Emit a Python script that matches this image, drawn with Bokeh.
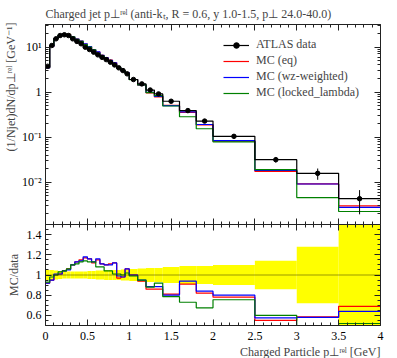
from bokeh.plotting import figure
from bokeh.layouts import column
from bokeh.models import (Range1d, LinearAxis, LogAxis, FixedTicker, Title,
                          Legend, LegendItem, Span)
from bokeh.embed import file_html
from bokeh.resources import INLINE

# ---------------- data ----------------
edges = [0.0, 0.05, 0.1, 0.15, 0.2, 0.25, 0.3, 0.35, 0.4, 0.45, 0.5,
         0.55, 0.6, 0.65, 0.7, 0.75, 0.8, 0.85, 0.9, 0.95, 1.0,
         1.1, 1.2, 1.3, 1.4, 1.6, 1.8, 2.0, 2.5, 3.0, 3.5, 4.0]

data = [3.74, 10.8, 15.2, 18.0, 18.7, 18.0, 15.2, 13.3, 11.8, 9.9,
        8.8, 7.7, 6.7, 5.9, 5.25, 4.6, 4.0, 3.45, 3.0, 2.54,
        1.90, 1.52, 1.11, 0.91, 0.625, 0.388, 0.227, 0.104, 0.0316,
        0.0157, 0.0043]

err = [0.05, 0.05, 0.045, 0.04, 0.035, 0.035, 0.035, 0.035, 0.035, 0.035,
       0.04, 0.04, 0.045, 0.045, 0.05, 0.05, 0.05, 0.05, 0.055, 0.055,
       0.06, 0.065, 0.07, 0.07, 0.08, 0.09, 0.09, 0.10, 0.14, 0.28, 0.55]

ratio_eq = [0.92, 0.95, 1.00, 1.01, 1.04, 1.06, 1.10, 1.13, 1.15, 1.17,
            1.16, 1.12, 1.15, 1.11, 1.10, 1.11, 1.12, 0.97, 0.98, 1.06,
            1.00, 0.94, 0.86, 0.86, 0.81, 0.91, 0.82, 0.78, 0.55, 0.585, 0.69]

ratio_wz = [0.92, 0.95, 1.01, 1.01, 1.04, 1.05, 1.10, 1.13, 1.14, 1.18,
            1.16, 1.13, 1.16, 1.11, 1.10, 1.10, 1.12, 0.99, 0.98, 1.06,
            1.00, 0.95, 0.885, 0.885, 0.80, 0.94, 0.84, 0.80, 0.575, 0.58, 0.64]

ratio_ll = [0.93, 0.98, 1.00, 1.03, 1.04, 1.06, 1.10, 1.11, 1.13, 1.14,
            1.13, 1.13, 1.08, 1.08, 1.04, 1.04, 1.01, 1.01, 1.00, 1.02,
            0.99, 0.95, 0.88, 0.92, 0.785, 0.73, 0.675, 0.755, 0.60, 0.29, 0.52]

x_major = [0, 0.5, 1, 1.5, 2, 2.5, 3, 3.5, 4]
x_minor = [i / 10 for i in range(41)]
y_major = [0.01, 0.1, 1, 10]
y_labels = {10: "10¹", 1: "1", 0.1: "10⁻¹", 0.01: "10⁻²"}
r_major = [0.6, 0.8, 1.0, 1.2, 1.4]
r_minor = [round(0.5 + 0.05 * i, 2) for i in range(21)]

labels = ["ATLAS data", "MC (eq)", "MC (wz-weighted)", "MC (locked_lambda)"]
colors = ["black", "#ff0000", "#0000ff", "#008000"]

FONT = "Liberation Serif"

centers = [(edges[i] + edges[i + 1]) / 2 for i in range(len(data))]
mcs = [[d * r for d, r in zip(data, rr)] for rr in (ratio_eq, ratio_wz, ratio_ll)]
ratios = [ratio_eq, ratio_wz, ratio_ll]


def st(v):
    return list(v) + [v[-1]]


def style(ax, show=True, standoff=4):
    ax.major_tick_in = 6
    ax.major_tick_out = 0
    ax.minor_tick_in = 3
    ax.minor_tick_out = 0
    ax.axis_line_color = "#222222"
    ax.major_tick_line_color = "#222222"
    ax.minor_tick_line_color = "#222222"
    ax.major_label_text_font = FONT
    ax.major_label_text_font_size = "12px"
    ax.major_label_text_color = "black"
    if not show:
        ax.major_label_text_font_size = "2px"
        ax.major_label_text_alpha = 0
        ax.major_label_text_color = None
        ax.major_label_standoff = 0
    else:
        ax.major_label_standoff = standoff


# ---------------- main panel ----------------
main = figure(frame_width=335, frame_height=200, x_range=Range1d(0, 4),
              y_range=Range1d(0.00115, 31.6), y_axis_type="log",
              output_backend="svg", toolbar_location=None,
              min_border_left=45, min_border_right=4, min_border_top=0,
              min_border_bottom=0,
              title="Charged jet p⊥ʳᵉˡ (anti-kₜ, R = 0.6, y 1.0-1.5, p⊥ 24.0-40.0)")
main.title.text_font = FONT
main.title.text_font_size = "12px"
main.title.text_font_style = "normal"
main.title.align = "left"
main.title.standoff = 8
main.grid.visible = False
main.outline_line_color = None

xt = FixedTicker(ticks=x_major, minor_ticks=x_minor)
yt = FixedTicker(ticks=y_major,
                 minor_ticks=[m * 10 ** e for e in range(-3, 2) for m in range(2, 10)])
main.xaxis[0].ticker = xt
style(main.xaxis[0], False)
main.yaxis[0].ticker = yt
main.yaxis[0].major_label_overrides = y_labels
style(main.yaxis[0], True)
ax_top = LinearAxis(ticker=xt)
style(ax_top, False)
main.add_layout(ax_top, "above")
ax_right = LogAxis(ticker=yt)
style(ax_right, False)
main.add_layout(ax_right, "right")
ylab = Title(text="(1/Njet)dN/dp⊥ʳᵉˡ [GeV⁻¹]", align="right", text_font=FONT,
             text_font_size="12px", text_font_style="normal", standoff=2)
main.add_layout(ylab, "left")

mc_r = []
for vals, c in zip(mcs, colors[1:]):
    mc_r.append(main.step(x=edges, y=st(vals), mode="after", line_color=c, line_width=1.2))
d_line = main.step(x=edges, y=st(data), mode="after", line_color="black", line_width=1.2)
main.segment(x0=centers, x1=centers, y0=[d * (1 - e) for d, e in zip(data, err)],
             y1=[d * (1 + e) for d, e in zip(data, err)], line_color="black", line_width=1)
d_pts = main.scatter(x=centers, y=data, size=4.5, color="black")

legend = Legend(items=[LegendItem(label=labels[0], renderers=[d_line, d_pts])] +
                [LegendItem(label=l, renderers=[r]) for l, r in zip(labels[1:], mc_r)],
                location=(178, 124), glyph_width=26, glyph_height=14, label_height=14,
                label_standoff=7, spacing=1, padding=0, margin=0,
                border_line_color=None, background_fill_alpha=0,
                label_text_font=FONT, label_text_font_size="12px")
main.add_layout(legend)

# ---------------- ratio panel ----------------
rat = figure(frame_width=335, frame_height=101, x_range=main.x_range,
             y_range=Range1d(0.5, 1.5), output_backend="svg", toolbar_location=None,
             min_border_left=45, min_border_right=4, min_border_top=0,
             min_border_bottom=0)
rat.grid.visible = False
rat.outline_line_color = None
rt = FixedTicker(ticks=r_major, minor_ticks=r_minor)
rat.xaxis[0].ticker = xt
rat.xaxis[0].major_label_overrides = {0: "0", 1: "1", 2: "2", 3: "3", 4: "4"}
style(rat.xaxis[0], True, standoff=6)
rat.yaxis[0].ticker = rt
rat.yaxis[0].major_label_overrides = {1.0: "1"}
style(rat.yaxis[0], True)
rtop = LinearAxis(ticker=xt)
style(rtop, False)
rat.add_layout(rtop, "above")
rright = LinearAxis(ticker=rt)
style(rright, False)
rat.add_layout(rright, "right")
rylab = Title(text="MC/data", align="center", text_font=FONT, text_font_size="12px",
              text_font_style="normal", standoff=6)
rat.add_layout(rylab, "left")
rxlab = Title(text="Charged Particle p⊥ʳᵉˡ [GeV]", align="right", text_font=FONT,
              text_font_size="12px", text_font_style="normal", standoff=0)
rat.add_layout(rxlab, "below")

rat.quad(left=edges[:-1], right=edges[1:], bottom=[1 - e for e in err],
         top=[1 + e for e in err], fill_color="#ffff00", line_color=None)
rat.add_layout(Span(location=1, dimension="width", line_color="black",
                    line_alpha=0.4, line_width=1))
for rr, c in zip(ratios, colors[1:]):
    rat.step(x=edges, y=st(rr), mode="after", line_color=c, line_width=1.2)

layout = column(main, rat, spacing=0)
open("out.html", "w").write(file_html(layout, INLINE))
